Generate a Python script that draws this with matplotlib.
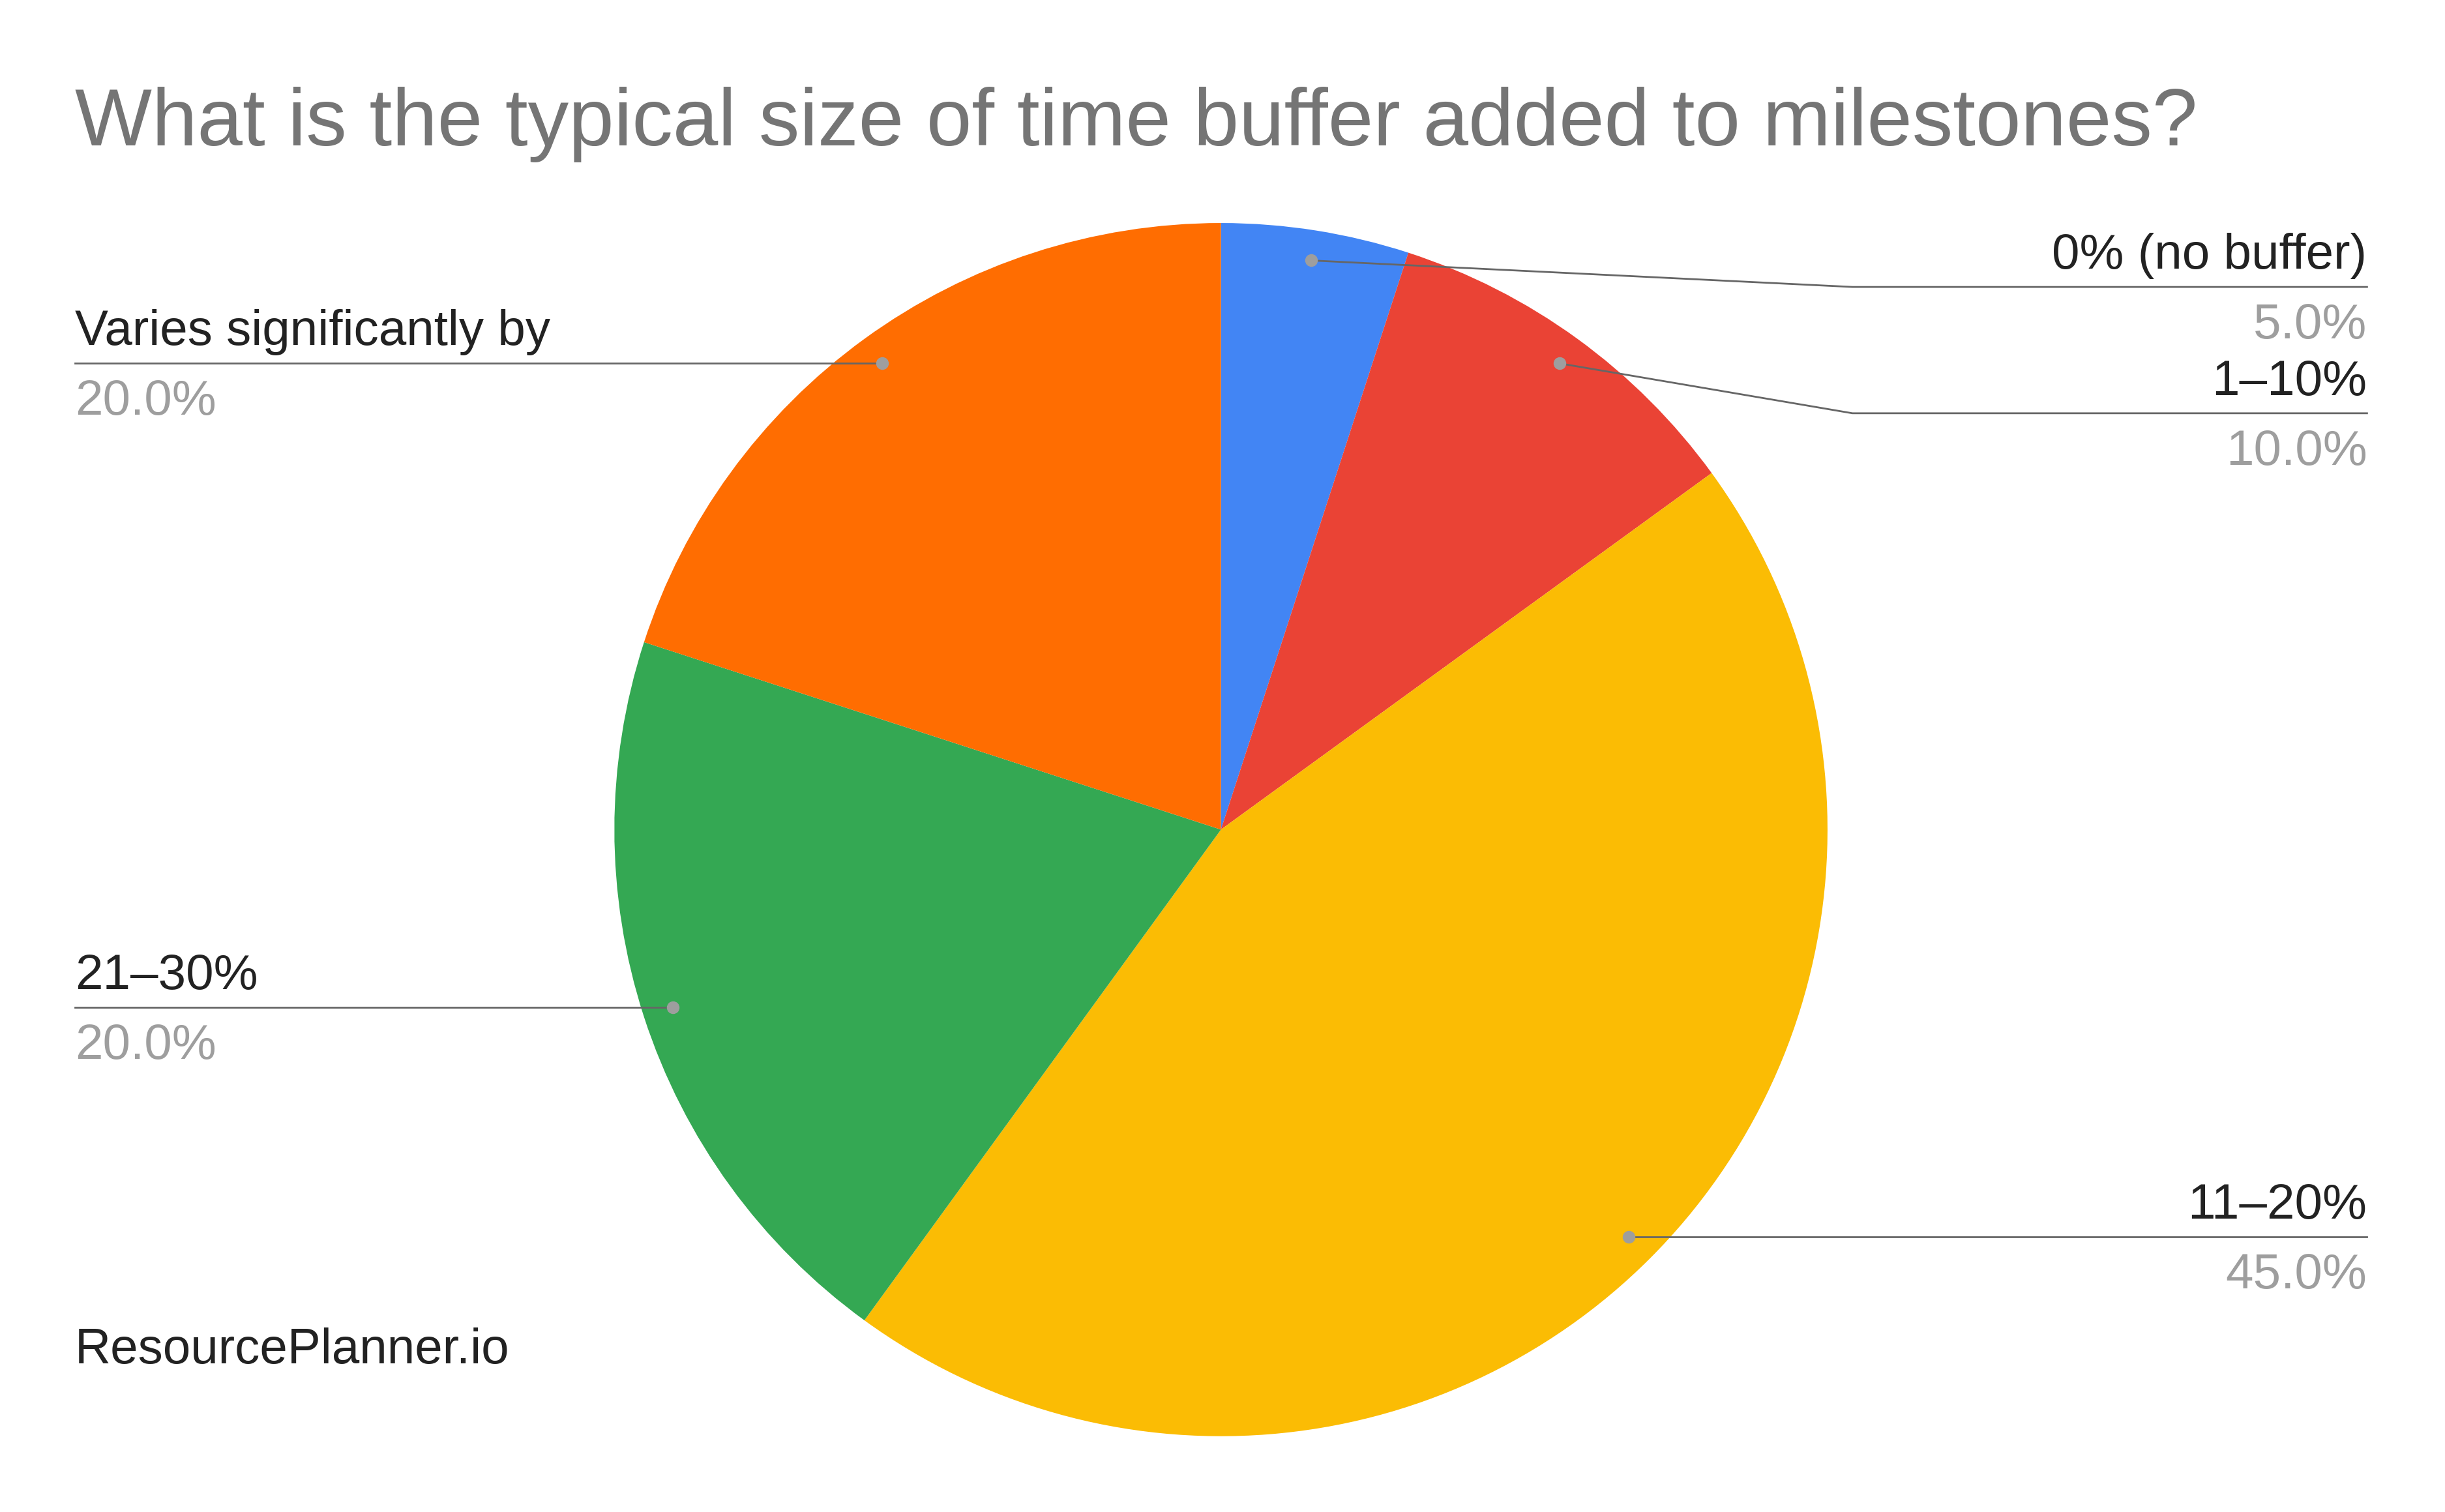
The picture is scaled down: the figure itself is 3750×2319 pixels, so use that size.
import matplotlib
matplotlib.use("Agg")
import matplotlib.pyplot as plt
import numpy as np

labels = ["0% (no buffer)", "1–10%", "11–20%", "21–30%", "Varies significantly by"]
values = [5.0, 10.0, 45.0, 20.0, 20.0]
colors = ["#4285F4", "#EA4335", "#FBBC04", "#34A853", "#FF6D01"]

plt.rcParams['font.family'] = ['Liberation Sans', 'DejaVu Sans']
W, H = 1568, 969.6
fig = plt.figure(figsize=(37.5, 23.19), dpi=100)
ax = fig.add_axes([0, 0, 1, 1])
cx, cy, R = 783, 532, 389
wedges, _ = ax.pie(values, colors=colors, center=(cx, cy), radius=R,
                   startangle=-90, counterclock=True, frame=True,
                   wedgeprops=dict(linewidth=0))
ax.set_xlim(0, W); ax.set_ylim(H, 0); ax.set_aspect('equal'); ax.axis('off')

fig.text(48/W, 1-80/H, "What is the typical size of time buffer added to milestones?",
         fontsize=90, color="#757575", va='center', ha='left')
fig.text(48/W, 1-866/H, "ResourcePlanner.io", fontsize=55, color="#222222", va='center')

layout = [(184, 1188, 'r'), (265, 1188, 'r'), (793, None, 'r'), (646, None, 'l'), (233, None, 'l')]
for w, lab, v, (ly, ex, side) in zip(wedges, labels, values, layout):
    th = np.deg2rad((w.theta1 + w.theta2) / 2)
    dx, dy = cx + 0.95 * R * np.cos(th), cy + 0.95 * R * np.sin(th)
    if side == 'r':
        xs, ys = ([dx, 1518], [ly, ly]) if ex is None else ([dx, ex, 1518], [dy, ly, ly])
        tx, ha = 1518, 'right'
    else:
        xs, ys = [48, dx], [ly, ly]
        tx, ha = 48, 'left'
    ax.plot(xs, ys, color="#666666", lw=2, zorder=3)
    ax.plot([dx], [dy], 'o', color="#9E9E9E", ms=13, zorder=4)
    ax.text(tx, ly - 5, lab, ha=ha, va='bottom', fontsize=55, color="#222222")
    ax.text(tx, ly + 10, f"{v:.1f}%", ha=ha, va='top', fontsize=55, color="#9E9E9E")

fig.savefig("out.png", dpi=100, facecolor='white')
